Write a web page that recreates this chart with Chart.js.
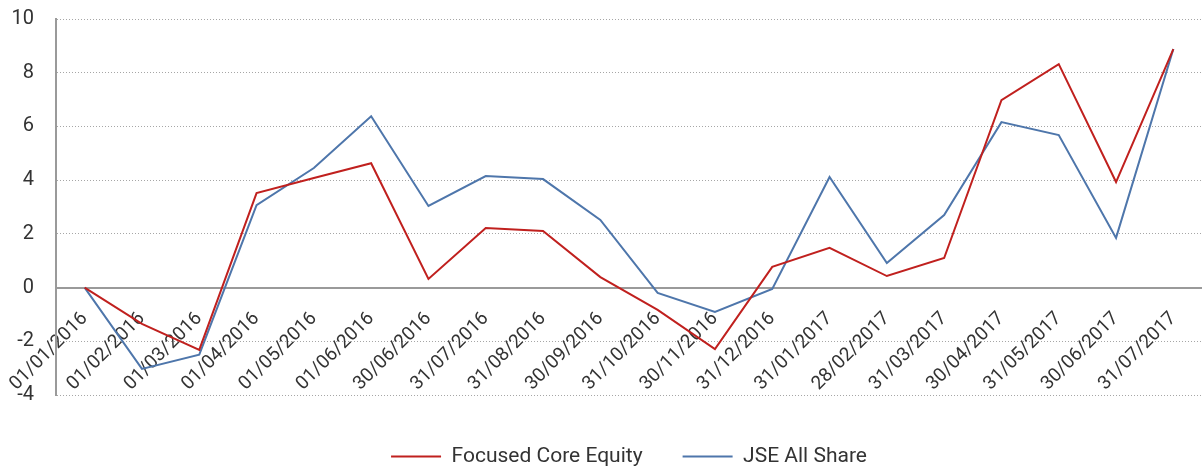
<!DOCTYPE html>
<html>
<head>
<meta charset="utf-8">
<script src="https://cdn.jsdelivr.net/npm/chart.js@4.4.1/dist/chart.umd.min.js"></script>
<style>
  html, body { margin: 0; padding: 0; background: #fff; }
  #wrap { width: 1202px; height: 468px; position: relative; }
</style>
</head>
<body>
<div id="wrap"><canvas id="perfChart"></canvas></div>
<script>
// month-end dates
const dates = ['01/01/2016', '01/02/2016', '01/03/2016', '01/04/2016', '01/05/2016', '01/06/2016',
    '30/06/2016', '31/07/2016', '31/08/2016', '30/09/2016', '31/10/2016', '30/11/2016',
    '31/12/2016', '31/01/2017', '28/02/2017', '31/03/2017', '30/04/2017', '31/05/2017',
    '30/06/2017', '31/07/2017'];

// cumulative returns (%)
const focusedCoreEquity = [0, -1.35, -2.32, 3.52, 4.08, 4.63, 0.32, 2.22, 2.11, 0.39,
    -0.83, -2.29, 0.77, 1.48, 0.43, 1.10, 6.98, 8.32, 3.93, 8.88];
const jseAllShare = [0, -3.03, -2.50, 3.07, 4.45, 6.38, 3.04, 4.15, 4.04, 2.52,
    -0.20, -0.91, -0.05, 4.12, 0.91, 2.70, 6.16, 5.68, 1.85, 8.88];

const yTicks = { min: -4, max: 10, step: 2 };

const FONT = 'Roboto, "DejaVu Sans", sans-serif';
const TEXT = '#333333';
const AXIS = '#9a9a9a';
const NONE = 'rgba(0,0,0,0)';

new Chart(document.getElementById('perfChart'), {
    type: 'line',
    data: {
        labels: dates,
        datasets: [{
            label: 'Focused Core Equity',
            data: focusedCoreEquity,
            borderColor: '#C0201E',
            backgroundColor: '#C0201E',
            borderWidth: 2,
            pointRadius: 0,
            tension: 0,
            xAxisID: 'x'
        }, {
            label: 'JSE All Share',
            data: jseAllShare,
            borderColor: '#4E76AB',
            backgroundColor: '#4E76AB',
            borderWidth: 2,
            pointRadius: 0,
            tension: 0,
            xAxisID: 'x'
        }]
    },
    options: {
        responsive: true,
        maintainAspectRatio: false,
        animation: false,
        layout: { padding: { top: 19, right: 0, bottom: 0, left: 0 } },
        scales: {
            x: {
                type: 'category',
                position: { y: 0 },
                offset: true,
                grid: { display: true, drawOnChartArea: false, drawTicks: true, tickLength: 12, color: NONE, tickColor: NONE },
                border: { display: true, color: AXIS, width: 2 },
                ticks: {
                    color: TEXT,
                    font: { family: FONT, size: 19 },
                    minRotation: 45,
                    maxRotation: 45,
                    autoSkip: false,
                    padding: 8
                }
            },
            // empty scale that only keeps room between plot and legend
            spacer: {
                type: 'linear',
                axis: 'x',
                position: 'bottom',
                display: true,
                grid: { display: false, drawTicks: false },
                border: { display: false },
                ticks: { display: false },
                afterFit: s => { s.height = 11; }
            },
            y: {
                min: yTicks.min,
                max: yTicks.max,
                ticks: {
                    stepSize: yTicks.step,
                    color: TEXT,
                    font: { family: FONT, size: 20 },
                    padding: 0
                },
                grid: {
                    drawTicks: true,
                    tickLength: 22,
                    tickColor: NONE,
                    color: ctx => ctx.tick && ctx.tick.value === 0 ? NONE : '#a6a6a6',
                    lineWidth: 1
                },
                border: {
                    display: true,
                    color: AXIS,
                    width: 2,
                    dash: ctx => ctx.tick ? [1, 2] : []
                },
                afterFit: s => { s.width = 56; }
            }
        },
        plugins: {
            legend: {
                position: 'bottom',
                fullSize: false,
                maxHeight: 62,
                labels: {
                    color: TEXT,
                    font: { family: FONT, size: 21 },
                    boxWidth: 50,
                    boxHeight: 0,
                    padding: 40
                }
            },
            tooltip: { enabled: false }
        }
    }
});
</script>
</body>
</html>
